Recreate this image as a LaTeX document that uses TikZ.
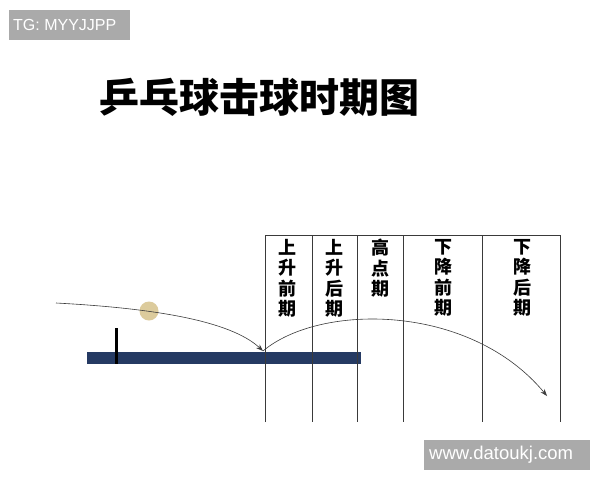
\documentclass[tikz,border=0pt]{standalone}
\usepackage{fontspec}
\setmainfont{Liberation Sans}
\newfontfamily\cjk{Noto Sans CJK SC}
\usetikzlibrary{positioning,arrows.meta}
\definecolor{tablecol}{HTML}{253A63}
\definecolor{ballcol}{HTML}{DCCB9C}
\definecolor{markcol}{HTML}{AAAAAA}
\definecolor{gridcol}{HTML}{3A3A3A}

\begin{document}
\begin{tikzpicture}[x=1pt,y=-1pt,
    phase/.style={align=center,font=\cjk\bfseries\fontsize{18}{20.5}\selectfont,anchor=north,inner sep=0pt},
    tagtext/.style={text=white,font=\fontsize{16}{16}\selectfont,inner sep=0pt,anchor=west},
    flight/.style={gridcol,line width=0.6pt,-{Stealth[length=7pt,width=5pt]}}]
  \useasboundingbox[fill=white] (0,0) rectangle (600,480);

  % watermarks
  \fill[markcol] (9,10) rectangle (130,40);
  \node[tagtext] (tg) at (13,25) {TG: MYYJJPP};
  \fill[markcol] (424,440) rectangle (590,470);
  \node[tagtext,font=\fontsize{18.5}{18.5}\selectfont] (web) at (429,455) {www.datoukj.com};

  % title
  \node[font=\cjk\bfseries\fontsize{40}{40}\selectfont] (title) at (259,97) {乒乓球击球时期图};

  % table and net
  \fill[tablecol] (87,352) rectangle (361,364);
  \draw[black,line width=3pt] (116,328) -- (116,364);

  % phase columns
  \draw[gridcol,line width=0.7pt] (265,422) -- (265,235) -- (560,235) -- (560,422);
  \foreach \x in {312,357,403,482}
    \draw[gridcol,line width=0.7pt] (\x,235) -- (\x,422);
  \node[phase] (p1) at (287,239) {上\\升\\前\\期};
  \node[phase] (p2) at (334,239) {上\\升\\后\\期};
  \node[phase] (p3) at (380,239) {高\\点\\期};
  \node[phase] (p4) at (443,239) {下\\降\\前\\期};
  \node[phase] (p5) at (522,239) {下\\降\\后\\期};

  % ball and flight path
  \coordinate (start) at (56,303);
  \coordinate (bounce) at (263,351);
  \coordinate (finish) at (547,396);
  \node[circle,fill=ballcol,minimum size=19pt,inner sep=0pt] (ball) at (149,311) {};
  \draw[flight] (start) .. controls (150,308) and (230,320) .. (bounce);
  \draw[flight] (bounce) .. controls (320,303) and (470,303) .. (finish);
\end{tikzpicture}
\end{document}
